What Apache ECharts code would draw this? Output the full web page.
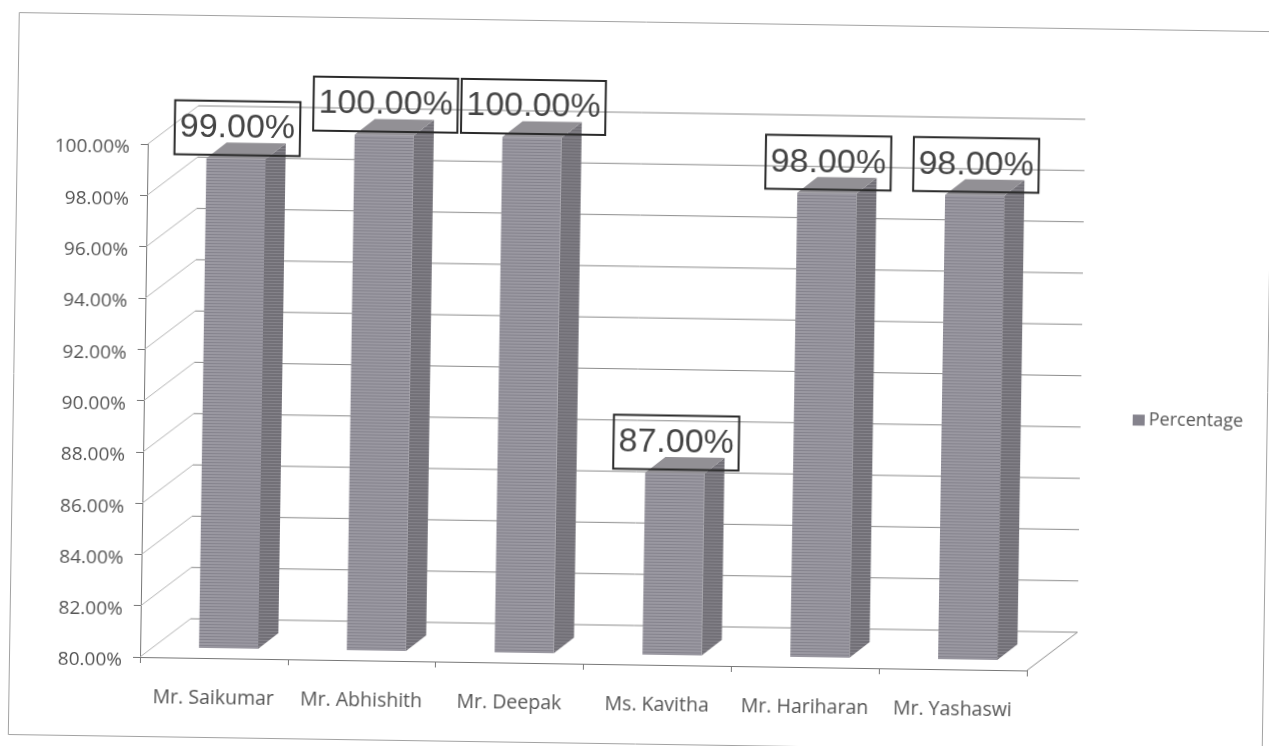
<!DOCTYPE html>
<html>
<head>
<meta charset="utf-8">
<style>
  html, body { margin: 0; height: 100%; background: #fff; overflow: hidden; }
  /* the original is a slightly crooked scan, so the whole chart is tilted */
  #main {
    position: absolute; left: 0; top: 0; width: 1269px; height: 746px;
    transform: rotate(0.87deg); transform-origin: 140px 657px;
  }
</style>
</head>
<body>
<div id="main"></div>
<script src="https://cdn.jsdelivr.net/npm/echarts@6/dist/echarts.min.js"></script>
<script>
var categories = ["Mr. Saikumar", "Mr. Abhishith", "Mr. Deepak", "Ms. Kavitha", "Mr. Hariharan", "Mr. Yashaswi"];
var percentages = [99, 100, 100, 87, 98, 98];
var yTicks = [80, 82, 84, 86, 88, 90, 92, 94, 96, 98, 100];
var seriesName = "Percentage";

var FONT = '"Open Sans", sans-serif';
var LABEL_FONT = '"Liberation Sans", sans-serif';
// depth of the fake 3D box, and of one bar inside it
var WALL_X = 50, WALL_Y = -39;
var BAR_X = 20, BAR_Y = -16;
var BAR_SHIFT_X = 14.5, BAR_SHIFT_Y = -10, BAR_TOP_SHIFT_Y = -12.5;

// horizontal scan stripes on the bars
function stripes(base, line) {
  var c = document.createElement("canvas");
  c.width = 6;
  c.height = 3;
  var ctx = c.getContext("2d");
  ctx.fillStyle = base;
  ctx.fillRect(0, 0, 6, 3);
  ctx.fillStyle = line;
  ctx.fillRect(0, 2, 6, 1);
  return { image: c, repeat: "repeat" };
}
var frontFill = stripes("#9a98a1", "#85838d");
var sideFill = stripes("#727077", "#85838a");

function renderWall(params, api) {
  var box = params.coordSys;
  var p = api.coord([0, api.value(1)]);
  var left = box.x, right = box.x + box.width, y = p[1];
  var children = [
    {
      type: "line",
      shape: { x1: left, y1: y, x2: left + WALL_X, y2: y + WALL_Y },
      style: { stroke: "#b4b4b4", lineWidth: 1 },
    },
    {
      type: "line",
      shape: { x1: left + WALL_X, y1: y + WALL_Y, x2: right + WALL_X, y2: y + WALL_Y },
      style: { stroke: "#8c8c8c", lineWidth: 1 },
    },
  ];
  // right edge of the floor
  if (api.value(1) === yTicks[0]) {
    children.push({
      type: "line",
      shape: { x1: right, y1: y, x2: right + WALL_X, y2: y + WALL_Y },
      style: { stroke: "#8c8c8c", lineWidth: 1 },
    });
  }
  return { type: "group", children: children };
}

function renderBar(params, api) {
  var idx = api.value(0);
  var val = api.value(1);
  var base = api.coord([idx, yTicks[0]]);
  var top = api.coord([idx, val]);
  var w = api.size([1, 0])[0] * 0.4;
  var x0 = base[0] + BAR_SHIFT_X - w / 2;
  var x1 = x0 + w;
  var yb = base[1] + BAR_SHIFT_Y;
  var yt = top[1] + BAR_TOP_SHIFT_Y;
  return {
    type: "group",
    children: [
      {
        type: "polygon",
        shape: { points: [[x1, yb], [x1 + BAR_X, yb + BAR_Y], [x1 + BAR_X, yt + BAR_Y], [x1, yt]] },
        style: { fill: sideFill },
      },
      {
        type: "polygon",
        shape: { points: [[x0, yt], [x0 + BAR_X, yt + BAR_Y], [x1 + BAR_X, yt + BAR_Y], [x1, yt]] },
        style: { fill: "#929095" },
      },
      {
        type: "rect",
        shape: { x: x0, y: yt, width: w, height: yb - yt },
        style: { fill: frontFill },
      },
      {
        type: "text",
        z2: 10,
        style: {
          text: val.toFixed(2) + "%",
          x: x0 + w / 2 + 1,
          y: yt - 30.5,
          align: "center",
          verticalAlign: "middle",
          font: "34px " + LABEL_FONT,
          fill: "#444",
          borderColor: "#2a2a2a",
          borderWidth: 2,
          padding: [10, 5, 10, 5],
        },
      },
    ],
  };
}

var myChart = echarts.init(document.getElementById("main"));
myChart.setOption({
  animation: false,
  backgroundColor: "#fff",
  grid: { left: 140, top: 144, width: 887, height: 513 },
  legend: {
    data: [seriesName],
    left: 1124,
    top: 391,
    icon: "rect",
    itemWidth: 12,
    itemHeight: 11,
    itemGap: 5,
    textStyle: { color: "#555", fontSize: 18, fontFamily: FONT, padding: [0, 0, 0, -1] },
  },
  // outer frame of the scanned chart
  graphic: [
    {
      type: "rect",
      left: 7,
      top: 12,
      shape: { width: 1254, height: 722 },
      style: { fill: "none", stroke: "#a2a2a2", lineWidth: 1 },
      silent: true,
    },
  ],
  xAxis: {
    type: "category",
    data: categories,
    boundaryGap: true,
    axisLine: { lineStyle: { color: "#777", width: 1 } },
    axisTick: { show: true, alignWithLabel: false, length: 6, lineStyle: { color: "#777" } },
    axisLabel: { color: "#555", fontSize: 19.5, fontFamily: FONT, margin: 30, interval: 0 },
    splitLine: { show: false },
  },
  yAxis: {
    type: "value",
    min: 80,
    max: 100,
    interval: 2,
    axisLine: { show: true, lineStyle: { color: "#777", width: 1 } },
    axisTick: { show: true, length: 7, lineStyle: { color: "#777" } },
    axisLabel: {
      color: "#555",
      fontSize: 19,
      fontFamily: FONT,
      margin: 18,
      // top aligned with a short line box, sits the text a little under the tick
      verticalAlign: "top",
      lineHeight: 8,
      formatter: function (v) {
        return v.toFixed(2) + "%";
      },
    },
    splitLine: { show: false },
  },
  series: [
    {
      name: "wall",
      type: "custom",
      silent: true,
      z: 1,
      renderItem: renderWall,
      encode: { x: 0, y: 1 },
      data: yTicks.map(function (v) {
        return [0, v];
      }),
    },
    {
      name: seriesName,
      type: "custom",
      z: 2,
      clip: false,
      renderItem: renderBar,
      itemStyle: { color: "#85838d" },
      encode: { x: 0, y: 1 },
      data: percentages.map(function (v, i) {
        return [i, v];
      }),
    },
  ],
});
</script>
</body>
</html>
